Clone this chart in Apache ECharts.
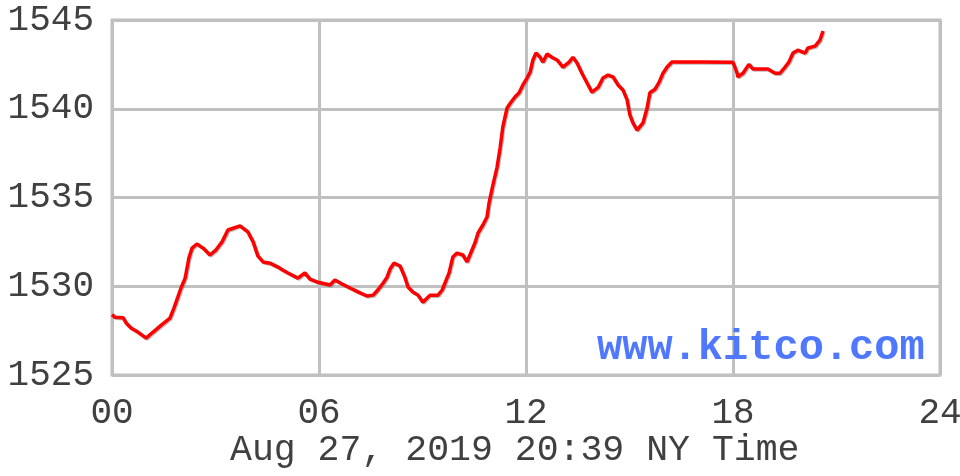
<!DOCTYPE html>
<html>
<head>
<meta charset="utf-8">
<script src="https://cdn.jsdelivr.net/npm/echarts@6/dist/echarts.min.js"></script>
<style>
html,body{margin:0;padding:0;background:#fff;}
#chart{width:960px;height:476px;}
</style>
</head>
<body>
<div id="chart"></div>
<script>
// Hours since midnight (NY time)
var hours = [0,0.09,0.32,0.41,0.55,0.75,0.99,1.19,1.42,1.68,1.80,1.91,2.00,2.12,2.23,2.32,2.46,2.64,2.84,3.01,3.19,3.36,3.71,3.94,4.09,4.23,4.38,4.58,4.81,4.96,5.10,5.39,5.59,5.74,5.94,6.32,6.46,6.67,6.90,7.13,7.39,7.57,7.71,7.86,7.97,8.06,8.17,8.35,8.49,8.58,8.72,8.87,9.01,9.22,9.45,9.57,9.65,9.77,9.88,10.00,10.17,10.29,10.41,10.52,10.61,10.75,10.87,10.93,11.04,11.16,11.25,11.33,11.45,11.57,11.68,11.80,11.91,12.03,12.12,12.20,12.29,12.41,12.49,12.61,12.75,12.90,13.07,13.25,13.36,13.48,13.62,13.77,13.91,14.09,14.23,14.38,14.52,14.67,14.81,14.93,15.01,15.10,15.22,15.39,15.51,15.59,15.74,15.86,15.97,16.09,16.23,17.04,18.00,18.12,18.14,18.29,18.46,18.58,18.87,19.01,19.22,19.36,19.51,19.62,19.74,19.88,20.09,20.17,20.38,20.52,20.61];
// Gold price (USD/oz)
var prices = [1528.4,1528.25,1528.23,1527.93,1527.65,1527.42,1527.08,1527.42,1527.8,1528.2,1528.8,1529.4,1529.9,1530.46,1531.6,1532.15,1532.38,1532.15,1531.76,1532.04,1532.5,1533.17,1533.4,1533.06,1532.5,1531.7,1531.37,1531.3,1531.08,1530.9,1530.75,1530.46,1530.75,1530.4,1530.24,1530.07,1530.35,1530.13,1529.9,1529.68,1529.45,1529.5,1529.8,1530.18,1530.5,1530.97,1531.3,1531.14,1530.5,1529.96,1529.68,1529.5,1529.1,1529.5,1529.5,1529.79,1530.18,1530.75,1531.65,1531.87,1531.76,1531.37,1531.93,1532.44,1533.0,1533.45,1533.9,1534.7,1535.7,1536.7,1537.8,1539.0,1540.04,1540.38,1540.66,1540.9,1541.34,1541.73,1542.07,1542.75,1543.14,1542.9,1542.63,1543.08,1542.9,1542.75,1542.35,1542.63,1542.9,1542.58,1542.0,1541.45,1540.94,1541.2,1541.73,1541.9,1541.8,1541.34,1541.06,1540.5,1539.65,1539.2,1538.8,1539.2,1540.04,1540.9,1541.1,1541.5,1542.0,1542.35,1542.63,1542.63,1542.62,1542.0,1541.8,1542.0,1542.5,1542.24,1542.24,1542.24,1542.0,1542.0,1542.35,1542.63,1543.14,1543.3,1543.14,1543.42,1543.53,1543.87,1544.38];
var xTicks = ['00','06','12','18','24'];
var yTicks = [1525,1530,1535,1540,1545];
var titleText = 'Aug 27, 2019 20:39 NY Time';
var watermark = 'www.kitco.com';

var data = hours.map(function(h,i){return [h, prices[i]];});
var FONT = '"Liberation Mono", "DejaVu Sans Mono", monospace';
var chart = echarts.init(document.getElementById('chart'), null, {renderer:'canvas'});
chart.setOption({
  animation:false,
  backgroundColor:'#ffffff',
  grid:{left:112,right:20,top:20,bottom:101,containLabel:false,outerBoundsMode:'none',show:true,borderColor:'#c0c0c0',borderWidth:3,backgroundColor:'transparent'},
  xAxis:{
    type:'value',min:0,max:24,interval:6,
    axisLine:{show:false},axisTick:{show:false},
    splitLine:{show:true,lineStyle:{color:'#c0c0c0',width:3}},
    axisLabel:{color:'#404040',fontFamily:FONT,fontSize:36,margin:20,showMaxLabel:true,showMinLabel:true,
      formatter:function(v){return xTicks[Math.round(v/6)];}}
  },
  yAxis:{
    type:'value',min:yTicks[0],max:yTicks[yTicks.length-1],interval:5,
    axisLine:{show:false},axisTick:{show:false},
    splitLine:{show:true,lineStyle:{color:'#c0c0c0',width:3}},
    axisLabel:{color:'#404040',fontFamily:FONT,fontSize:36,margin:18,
      formatter:function(v){return String(v);}}
  },
  graphic:[
    {type:'text',left:230,top:432,z:10,style:{text:titleText,font:'36.5px '+FONT,fill:'#404040'}},
    {type:'text',left:597,top:327,z:10,style:{text:watermark,font:'bold 42px '+FONT,fill:'#5078ff'}}
  ],
  series:[{
    type:'line',data:data,showSymbol:false,symbol:'none',
    lineStyle:{color:'#ff0000',width:3.5,shadowColor:'rgba(120,120,120,0.5)',shadowOffsetX:1,shadowOffsetY:1,shadowBlur:0},
    z:5
  }]
});
</script>
</body>
</html>
